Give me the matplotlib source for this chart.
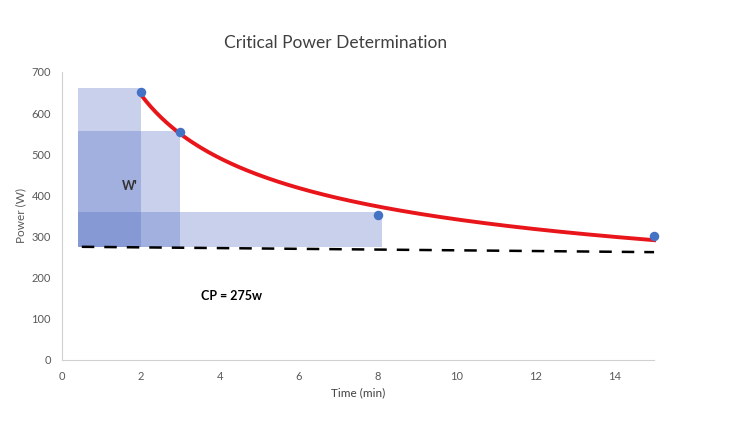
import numpy as np
import matplotlib.pyplot as plt

plt.rcParams['font.family'] = ['Lato', 'DejaVu Sans']

# measured points
time_min = [2, 3, 8, 15]
power_w = [652, 553, 353, 302]

# W' boxes: (left, right, top), bottom at CP
box_left = 0.4
box_right = [2, 3, 8.1]
box_top = [660, 557, 360]
cp = 275

# CP dashed line end points
cp_x = [0.5, 15]
cp_y = [275, 262]

fig = plt.figure(figsize=(7.3, 4.23), dpi=100)
ax = fig.add_axes([0.085, 0.149, 0.811, 0.681])

for r, t in zip(box_right, box_top):
    ax.fill_between([box_left, r], cp, t, color='#4a66c0', alpha=0.3, linewidth=0)

# power trendline fitted to points
b, a = np.polyfit(np.log(time_min), np.log(power_w), 1)
tt = np.linspace(2, 15, 200)
ax.plot(tt, np.exp(a) * tt ** b, color='#e8161b', linewidth=2.8, zorder=3, clip_on=False)

ax.plot(cp_x, cp_y, color='black', linestyle=(0, (5, 4)), linewidth=1.8, zorder=3, clip_on=False)
ax.scatter(time_min, power_w, color='#4472c4', s=34, zorder=4, clip_on=False)

ax.text(1.72, 423, "W'", fontsize=9, fontweight='bold', color='#333333', ha='center', va='center')
ax.text(4.3, 156, 'CP = 275w', fontsize=9, fontweight='bold', color='black', ha='center', va='center')

ax.set_xlim(0, 15)
ax.set_ylim(0, 700)
ax.set_xticks(range(0, 15, 2))
ax.set_yticks(range(0, 701, 100))
for s in ['top', 'right']:
    ax.spines[s].set_visible(False)
for s in ['bottom', 'left']:
    ax.spines[s].set_color('#d0d0d0')
ax.tick_params(length=0, labelsize=8, labelcolor='#595959', pad=8)

ax.set_xlabel('Time (min)', fontsize=8.5, color='#404040')
ax.set_ylabel('Power (W)', fontsize=8.5, color='#595959')
fig.text(0.459, 0.898, 'Critical Power Determination', fontsize=12.5, color='#404040', ha='center', va='center')

fig.savefig('out.png', dpi=100)
